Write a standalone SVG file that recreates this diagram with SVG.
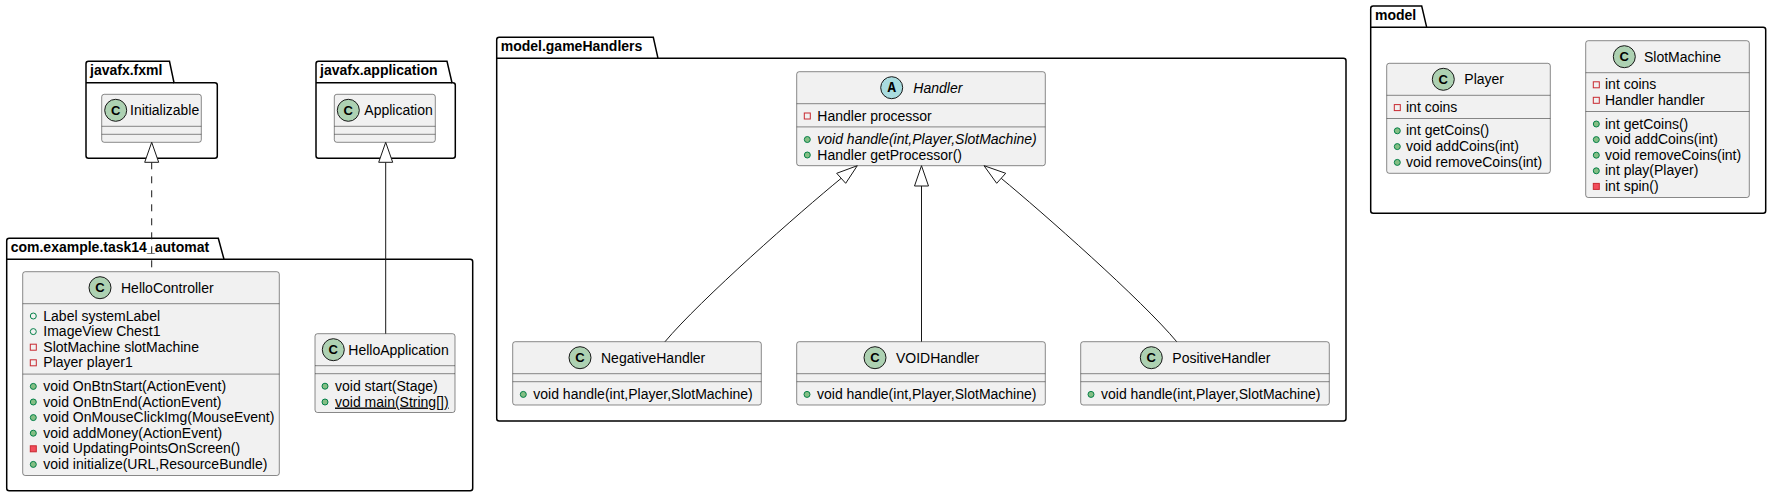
<svg xmlns="http://www.w3.org/2000/svg" width="1771" height="497" viewBox="0 0 1771 497">
<style>
.bg{fill:#FFFFFF}
.pkg{fill:none;stroke:#000000;stroke-width:1.5}
.cls{fill:#F1F1F1;stroke:#181818;stroke-width:0.5}
.sep{stroke:#181818;stroke-width:0.5}
.ci{fill:#ADD1B2;stroke:#181818;stroke-width:1}
.ai{fill:#A9DCDF;stroke:#181818;stroke-width:1}
.t{font-family:"Liberation Sans",Arial,sans-serif;font-size:14px;fill:#000000}
.pt{font-family:"Liberation Sans",Arial,sans-serif;font-size:14px;font-weight:bold;fill:#000000}
.lc{font-family:"Liberation Sans",Arial,sans-serif;font-size:13px;font-weight:bold;fill:#000000;text-anchor:middle}
.la{font-family:"Liberation Mono","Courier New",monospace;font-size:14px;font-weight:bold;fill:#000000;text-anchor:middle}
.it{font-style:italic}
.pubm{fill:#84BE84;stroke:#038048;stroke-width:1}
.pubf{fill:none;stroke:#038048;stroke-width:1}
.privf{fill:none;stroke:#C82930;stroke-width:1}
.privm{fill:#F24D5C;stroke:#C82930;stroke-width:1}
.ln{fill:none;stroke:#181818;stroke-width:1}
.dash{stroke-dasharray:7,7}
.head{fill:#FFFFFF;stroke:#181818;stroke-width:1}
</style>
<rect class="bg" x="0" y="0" width="1771" height="497"/>

<g id="pkg-javafx-fxml">
<path class="pkg" d="M86,82.7 L86,63.8 Q86,61.3 88.5,61.3 L169.5,61.3 L174,82.7 L214.8,82.7 Q217.3,82.7 217.3,85.2 L217.3,155.8 Q217.3,158.3 214.8,158.3 L88.5,158.3 Q86,158.3 86,155.8 Z"/>
<line class="pkg" x1="86" y1="82.7" x2="174" y2="82.7"/>
<text class="pt" x="90" y="75.3">javafx.fxml</text>
</g>

<g id="pkg-javafx-application">
<path class="pkg" d="M316,82.7 L316,63.8 Q316,61.3 318.5,61.3 L447,61.3 L452,82.7 L452.8,82.7 Q455.3,82.7 455.3,85.2 L455.3,155.8 Q455.3,158.3 452.8,158.3 L318.5,158.3 Q316,158.3 316,155.8 Z"/>
<line class="pkg" x1="316" y1="82.7" x2="452" y2="82.7"/>
<text class="pt" x="320" y="75.3">javafx.application</text>
</g>

<g id="pkg-com-example-task14-automat">
<path class="pkg" d="M6.7,259.3 L6.7,240.8 Q6.7,238.3 9.2,238.3 L218.3,238.3 L224,259.3 L470.2,259.3 Q472.7,259.3 472.7,261.8 L472.7,488.2 Q472.7,490.7 470.2,490.7 L9.2,490.7 Q6.7,490.7 6.7,488.2 Z"/>
<line class="pkg" x1="6.7" y1="259.3" x2="224" y2="259.3"/>
<text class="pt" x="10.7" y="252.3">com.example.task14_automat</text>
</g>

<g id="pkg-model-gameHandlers">
<path class="pkg" d="M496.7,58.3 L496.7,39.8 Q496.7,37.3 499.2,37.3 L653.3,37.3 L658,58.3 L1343.5,58.3 Q1346,58.3 1346,60.8 L1346,418.5 Q1346,421 1343.5,421 L499.2,421 Q496.7,421 496.7,418.5 Z"/>
<line class="pkg" x1="496.7" y1="58.3" x2="658" y2="58.3"/>
<text class="pt" x="500.7" y="51.3">model.gameHandlers</text>
</g>

<g id="pkg-model">
<path class="pkg" d="M1370.7,27.3 L1370.7,8.5 Q1370.7,6 1373.2,6 L1421.7,6 L1426.7,27.3 L1763.2,27.3 Q1765.7,27.3 1765.7,29.8 L1765.7,210.8 Q1765.7,213.3 1763.2,213.3 L1373.2,213.3 Q1370.7,213.3 1370.7,210.8 Z"/>
<line class="pkg" x1="1370.7" y1="27.3" x2="1426.7" y2="27.3"/>
<text class="pt" x="1375" y="20.3">model</text>
</g>

<g id="Initializable">
<rect class="cls" x="101.7" y="94.3" width="99.6" height="48" rx="2.5"/>
<circle class="ci" cx="115.7" cy="110.3" r="11"/>
<text class="lc" x="115.7" y="114.9">C</text>
<text class="t" x="130" y="115.3">Initializable</text>
<line class="sep" x1="101.7" y1="126.3" x2="201.3" y2="126.3"/>
<line class="sep" x1="101.7" y1="134.3" x2="201.3" y2="134.3"/>
</g>

<g id="Application">
<rect class="cls" x="334.3" y="94.3" width="101" height="48" rx="2.5"/>
<circle class="ci" cx="348.3" cy="110.3" r="11"/>
<text class="lc" x="348.3" y="114.9">C</text>
<text class="t" x="364.3" y="115.3">Application</text>
<line class="sep" x1="334.3" y1="126.3" x2="435.3" y2="126.3"/>
<line class="sep" x1="334.3" y1="134.3" x2="435.3" y2="134.3"/>
</g>

<g id="HelloController">
<rect class="cls" x="22.7" y="271.7" width="256.6" height="203.8" rx="2.5"/>
<circle class="ci" cx="100" cy="287.7" r="11"/>
<text class="lc" x="100" y="292.3">C</text>
<text class="t" x="121" y="292.7">HelloController</text>
<line class="sep" x1="22.7" y1="303.7" x2="279.3" y2="303.7"/>
<circle class="pubf" cx="33.3" cy="316" r="3"/>
<text class="t" x="43.3" y="320.5">Label systemLabel</text>
<circle class="pubf" cx="33.3" cy="331.6" r="3"/>
<text class="t" x="43.3" y="336.1">ImageView Chest1</text>
<rect class="privf" x="30.3" y="344.2" width="6" height="6"/>
<text class="t" x="43.3" y="351.7">SlotMachine slotMachine</text>
<rect class="privf" x="30.3" y="359.8" width="6" height="6"/>
<text class="t" x="43.3" y="367.3">Player player1</text>
<line class="sep" x1="22.7" y1="374.1" x2="279.3" y2="374.1"/>
<circle class="pubm" cx="33.3" cy="386.4" r="3"/>
<text class="t" x="43.3" y="390.9">void OnBtnStart(ActionEvent)</text>
<circle class="pubm" cx="33.3" cy="402" r="3"/>
<text class="t" x="43.3" y="406.5">void OnBtnEnd(ActionEvent)</text>
<circle class="pubm" cx="33.3" cy="417.6" r="3"/>
<text class="t" x="43.3" y="422.1">void OnMouseClickImg(MouseEvent)</text>
<circle class="pubm" cx="33.3" cy="433.2" r="3"/>
<text class="t" x="43.3" y="437.7">void addMoney(ActionEvent)</text>
<rect class="privm" x="30.3" y="445.8" width="6" height="6"/>
<text class="t" x="43.3" y="453.3">void UpdatingPointsOnScreen()</text>
<circle class="pubm" cx="33.3" cy="464.4" r="3"/>
<text class="t" x="43.3" y="468.9">void initialize(URL,ResourceBundle)</text>
</g>

<g id="HelloApplication">
<rect class="cls" x="315" y="333.7" width="140" height="78.8" rx="2.5"/>
<circle class="ci" cx="333.3" cy="349.7" r="11"/>
<text class="lc" x="333.3" y="354.3">C</text>
<text class="t" x="348.3" y="354.7">HelloApplication</text>
<line class="sep" x1="315" y1="365.7" x2="455" y2="365.7"/>
<line class="sep" x1="315" y1="373.7" x2="455" y2="373.7"/>
<circle class="pubm" cx="325" cy="386.2" r="3"/>
<text class="t" x="335" y="390.7">void start(Stage)</text>
<circle class="pubm" cx="325" cy="402" r="3"/>
<text class="t" x="335" y="406.5" text-decoration="underline">void main(String[])</text>
</g>

<g id="Handler">
<rect class="cls" x="796.7" y="71.7" width="248.6" height="94" rx="2.5"/>
<circle class="ai" cx="891.7" cy="87.7" r="11"/>
<text class="la" x="891.7" y="92.3">A</text>
<text class="t it" x="913.3" y="92.7">Handler</text>
<line class="sep" x1="796.7" y1="103.7" x2="1045.3" y2="103.7"/>
<rect class="privf" x="804.3" y="113" width="6" height="6"/>
<text class="t" x="817.3" y="120.5">Handler processor</text>
<line class="sep" x1="796.7" y1="126.9" x2="1045.3" y2="126.9"/>
<circle class="pubm" cx="807.3" cy="139.5" r="3"/>
<text class="t it" x="817.3" y="144">void handle(int,Player,SlotMachine)</text>
<circle class="pubm" cx="807.3" cy="155" r="3"/>
<text class="t" x="817.3" y="159.5">Handler getProcessor()</text>
</g>

<g id="NegativeHandler">
<rect class="cls" x="512.7" y="341.7" width="248.6" height="63.3" rx="2.5"/>
<circle class="ci" cx="580" cy="357.7" r="11"/>
<text class="lc" x="580" y="362.3">C</text>
<text class="t" x="601" y="362.7">NegativeHandler</text>
<line class="sep" x1="512.7" y1="373.7" x2="761.3" y2="373.7"/>
<line class="sep" x1="512.7" y1="381.7" x2="761.3" y2="381.7"/>
<circle class="pubm" cx="523.3" cy="394.4" r="3"/>
<text class="t" x="533.3" y="398.9">void handle(int,Player,SlotMachine)</text>
</g>

<g id="VOIDHandler">
<rect class="cls" x="796.7" y="341.7" width="248.6" height="63.3" rx="2.5"/>
<circle class="ci" cx="875" cy="357.7" r="11"/>
<text class="lc" x="875" y="362.3">C</text>
<text class="t" x="896" y="362.7">VOIDHandler</text>
<line class="sep" x1="796.7" y1="373.7" x2="1045.3" y2="373.7"/>
<line class="sep" x1="796.7" y1="381.7" x2="1045.3" y2="381.7"/>
<circle class="pubm" cx="807" cy="394.4" r="3"/>
<text class="t" x="817" y="398.9">void handle(int,Player,SlotMachine)</text>
</g>

<g id="PositiveHandler">
<rect class="cls" x="1080.7" y="341.7" width="248.6" height="63.3" rx="2.5"/>
<circle class="ci" cx="1151.3" cy="357.7" r="11"/>
<text class="lc" x="1151.3" y="362.3">C</text>
<text class="t" x="1172.3" y="362.7">PositiveHandler</text>
<line class="sep" x1="1080.7" y1="373.7" x2="1329.3" y2="373.7"/>
<line class="sep" x1="1080.7" y1="381.7" x2="1329.3" y2="381.7"/>
<circle class="pubm" cx="1091" cy="394.4" r="3"/>
<text class="t" x="1101" y="398.9">void handle(int,Player,SlotMachine)</text>
</g>

<g id="Player">
<rect class="cls" x="1386.7" y="63.3" width="163.6" height="110" rx="2.5"/>
<circle class="ci" cx="1443.3" cy="79.3" r="11"/>
<text class="lc" x="1443.3" y="83.9">C</text>
<text class="t" x="1464.3" y="84.3">Player</text>
<line class="sep" x1="1386.7" y1="95.3" x2="1550.3" y2="95.3"/>
<rect class="privf" x="1394.3" y="104.6" width="6" height="6"/>
<text class="t" x="1406" y="112.1">int coins</text>
<line class="sep" x1="1386.7" y1="118.5" x2="1550.3" y2="118.5"/>
<circle class="pubm" cx="1397.3" cy="130.8" r="3"/>
<text class="t" x="1406" y="135.3">int getCoins()</text>
<circle class="pubm" cx="1397.3" cy="146.6" r="3"/>
<text class="t" x="1406" y="151.1">void addCoins(int)</text>
<circle class="pubm" cx="1397.3" cy="162.4" r="3"/>
<text class="t" x="1406" y="166.9">void removeCoins(int)</text>
</g>

<g id="SlotMachine">
<rect class="cls" x="1585.7" y="40.7" width="163.6" height="156.8" rx="2.5"/>
<circle class="ci" cx="1624.3" cy="56.7" r="11"/>
<text class="lc" x="1624.3" y="61.3">C</text>
<text class="t" x="1644" y="61.7">SlotMachine</text>
<line class="sep" x1="1585.7" y1="72.7" x2="1749.3" y2="72.7"/>
<rect class="privf" x="1593.3" y="81.8" width="6" height="6"/>
<text class="t" x="1605" y="89.3">int coins</text>
<rect class="privf" x="1593.3" y="97.3" width="6" height="6"/>
<text class="t" x="1605" y="104.8">Handler handler</text>
<line class="sep" x1="1585.7" y1="111.5" x2="1749.3" y2="111.5"/>
<circle class="pubm" cx="1596.3" cy="124" r="3"/>
<text class="t" x="1605" y="128.5">int getCoins()</text>
<circle class="pubm" cx="1596.3" cy="139.6" r="3"/>
<text class="t" x="1605" y="144.1">void addCoins(int)</text>
<circle class="pubm" cx="1596.3" cy="155.2" r="3"/>
<text class="t" x="1605" y="159.7">void removeCoins(int)</text>
<circle class="pubm" cx="1596.3" cy="170.8" r="3"/>
<text class="t" x="1605" y="175.3">int play(Player)</text>
<rect class="privm" x="1593.3" y="183.4" width="6" height="6"/>
<text class="t" x="1605" y="190.9">int spin()</text>
</g>

<g id="connectors">
<line class="ln dash" x1="151.7" y1="162.3" x2="151.7" y2="271.7"/>
<polygon class="head" points="151.7,142.3 144.7,162.3 158.7,162.3"/>
<line class="ln" x1="385.7" y1="162.3" x2="385.7" y2="333.7"/>
<polygon class="head" points="385.7,142.3 378.7,162.3 392.7,162.3"/>
<path class="ln" d="M841.2,178.3 C800,212 700,300 665,341.7"/>
<polygon class="head" points="857.3,165.7 836.7,173.3 845.7,183.3"/>
<line class="ln" x1="921.5" y1="186" x2="921.5" y2="341.7"/>
<polygon class="head" points="921.5,165.7 914.5,186 928.5,186"/>
<path class="ln" d="M1001.2,178.3 C1042,212 1142,300 1176.7,341.7"/>
<polygon class="head" points="984,165.7 1005.7,173.3 996.7,183.3"/>
</g>
</svg>
